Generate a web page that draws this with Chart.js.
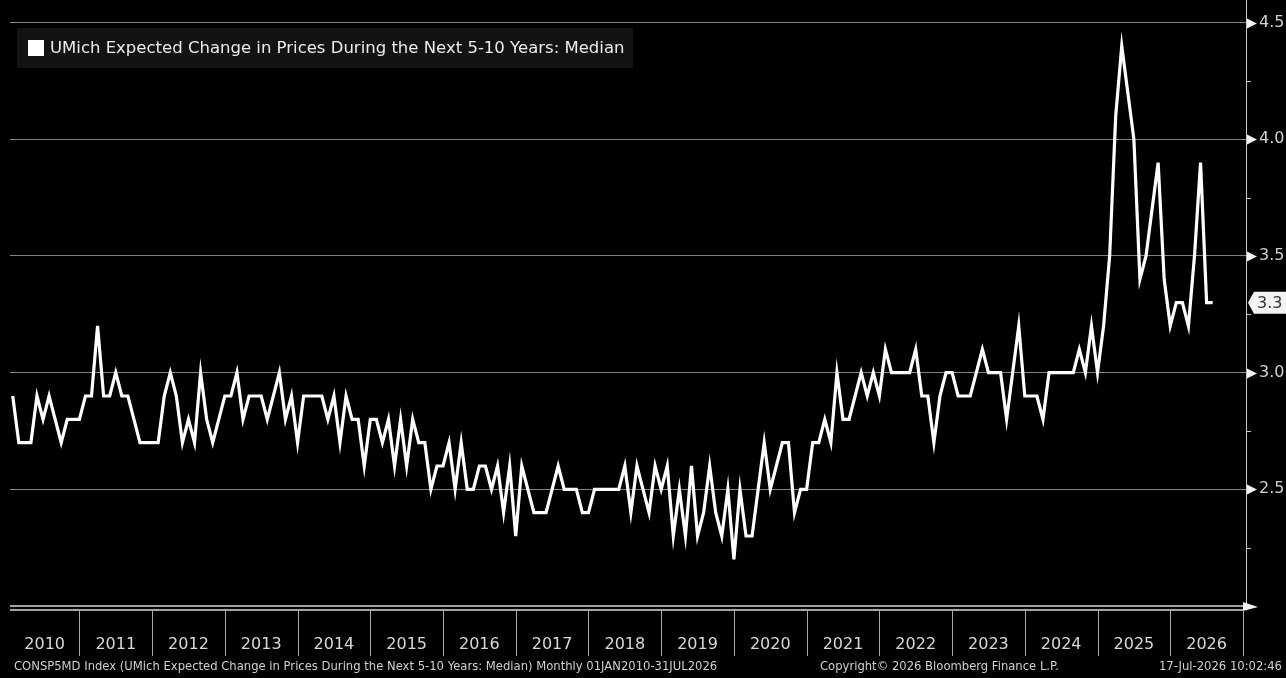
<!DOCTYPE html>
<html>
<head>
<meta charset="utf-8">
<title>UMich Expected Change in Prices During the Next 5-10 Years: Median</title>
<script src="https://cdn.jsdelivr.net/npm/chart.js@4.4.1/dist/chart.umd.min.js"></script>
<style>
  html, body { margin: 0; padding: 0; background: #000; }
  #wrap { position: relative; width: 1286px; height: 678px; }
</style>
</head>
<body>
<div id="wrap"><canvas id="chart" width="1286" height="678"></canvas></div>
<script>
/* ── DATA ─────────────────────────────────────────────────
   CONSP5MD Index, monthly median, Jan 2010 – Jul 2026.
   Values, one array per year.
──────────────────────────────────────────────────────────── */
const yr2010 = [2.9, 2.7, 2.7, 2.7, 2.9, 2.8, 2.9, 2.8, 2.7, 2.8, 2.8, 2.8];
const yr2011 = [2.9, 2.9, 3.2, 2.9, 2.9, 3.0, 2.9, 2.9, 2.8, 2.7, 2.7, 2.7];
const yr2012 = [2.7, 2.9, 3.0, 2.9, 2.7, 2.8, 2.7, 3.0, 2.8, 2.7, 2.8, 2.9];
const yr2013 = [2.9, 3.0, 2.8, 2.9, 2.9, 2.9, 2.8, 2.9, 3.0, 2.8, 2.9, 2.7];
const yr2014 = [2.9, 2.9, 2.9, 2.9, 2.8, 2.9, 2.7, 2.9, 2.8, 2.8, 2.6, 2.8];
const yr2015 = [2.8, 2.7, 2.8, 2.6, 2.8, 2.6, 2.8, 2.7, 2.7, 2.5, 2.6, 2.6];
const yr2016 = [2.7, 2.5, 2.7, 2.5, 2.5, 2.6, 2.6, 2.5, 2.6, 2.4, 2.6, 2.3];
const yr2017 = [2.6, 2.5, 2.4, 2.4, 2.4, 2.5, 2.6, 2.5, 2.5, 2.5, 2.4, 2.4];
const yr2018 = [2.5, 2.5, 2.5, 2.5, 2.5, 2.6, 2.4, 2.6, 2.5, 2.4, 2.6, 2.5];
const yr2019 = [2.6, 2.3, 2.5, 2.3, 2.6, 2.3, 2.4, 2.6, 2.4, 2.3, 2.5, 2.2];
const yr2020 = [2.5, 2.3, 2.3, 2.5, 2.7, 2.5, 2.6, 2.7, 2.7, 2.4, 2.5, 2.5];
const yr2021 = [2.7, 2.7, 2.8, 2.7, 3.0, 2.8, 2.8, 2.9, 3.0, 2.9, 3.0, 2.9];
const yr2022 = [3.1, 3.0, 3.0, 3.0, 3.0, 3.1, 2.9, 2.9, 2.7, 2.9, 3.0, 3.0];
const yr2023 = [2.9, 2.9, 2.9, 3.0, 3.1, 3.0, 3.0, 3.0, 2.8, 3.0, 3.2, 2.9];
const yr2024 = [2.9, 2.9, 2.8, 3.0, 3.0, 3.0, 3.0, 3.0, 3.1, 3.0, 3.2, 3.0];
const yr2025 = [3.2, 3.5, 4.1, 4.4, 4.2, 4.0, 3.4, 3.5, 3.7, 3.9, 3.4, 3.2];
const yr2026 = [3.3, 3.3, 3.2, 3.5, 3.9, 3.3, 3.3];

const yearLabels = ['2010', '2011', '2012', '2013', '2014', '2015', '2016', '2017', '2018',
                    '2019', '2020', '2021', '2022', '2023', '2024', '2025', '2026'];

// right axis: 2.0 – 4.5, labelled every 0.5, minor marks every 0.25
const yMin = 2.0;
const yMax = 4.5;
const yStep = 0.25;
const yLabelled = [2.5, 3.0, 3.5, 4.0, 4.5];

const seriesName = 'UMich Expected Change in Prices During the Next 5-10 Years: Median';
const footLeft   = 'CONSP5MD Index (UMich Expected Change in Prices During the Next 5-10 Years: Median) Monthly 01JAN2010-31JUL2026';
const footMid    = 'Copyright\u00A9 2026 Bloomberg Finance L.P.';
const footRight  = '17-Jul-2026 10:02:46';

const medianValues = [].concat(yr2010, yr2011, yr2012, yr2013, yr2014, yr2015, yr2016, yr2017,
                               yr2018, yr2019, yr2020, yr2021, yr2022, yr2023, yr2024, yr2025, yr2026);

// x = months since 1 Jan 2010, each reading plotted at month end
const points = medianValues.map((v, i) => ({ x: i + 1, y: v }));

const FONT = 'DejaVu Sans';
const isLabelled = v => yLabelled.some(l => Math.abs(l - v) < 1e-6);

/* ── BLOOMBERG FRAME ──────────────────────────────────────
   Legend box, year strip, axis marks, last-value tag, footer.
──────────────────────────────────────────────────────────── */
const bbgFrame = {
    id: 'bbgFrame',
    afterDraw(chart) {
        const { ctx, chartArea: a, scales: { x, y } } = chart;
        ctx.save();

        // right axis line runs to the top edge
        ctx.strokeStyle = '#c8c8c8';
        ctx.lineWidth = 1;
        ctx.beginPath();
        ctx.moveTo(a.right + 0.5, 0);
        ctx.lineTo(a.right + 0.5, a.bottom);
        ctx.stroke();

        // tick marks: triangles on labelled values, dashes elsewhere
        y.ticks.forEach(t => {
            const py = Math.round(y.getPixelForValue(t.value)) + 0.5;
            if (isLabelled(t.value)) {
                ctx.fillStyle = '#f2f2f2';
                ctx.beginPath();
                ctx.moveTo(a.right + 1, py - 5);
                ctx.lineTo(a.right + 11, py);
                ctx.lineTo(a.right + 1, py + 5);
                ctx.closePath();
                ctx.fill();
            } else {
                ctx.strokeStyle = '#c8c8c8';
                ctx.beginPath();
                ctx.moveTo(a.right, py);
                ctx.lineTo(a.right + 5, py);
                ctx.stroke();
            }
        });

        // double baseline with arrow
        const endX = x.getPixelForValue(yearLabels.length * 12);
        ctx.strokeStyle = '#d8d8d8';
        ctx.lineWidth = 1.5;
        [a.bottom, a.bottom + 4].forEach(py => {
            ctx.beginPath();
            ctx.moveTo(a.left, py);
            ctx.lineTo(endX, py);
            ctx.stroke();
        });
        ctx.fillStyle = '#f2f2f2';
        ctx.beginPath();
        ctx.moveTo(endX, a.bottom - 4);
        ctx.lineTo(endX + 15, a.bottom + 1);
        ctx.lineTo(endX, a.bottom + 5);
        ctx.closePath();
        ctx.fill();

        // year strip
        ctx.font = `16px "${FONT}"`;
        ctx.textAlign = 'center';
        ctx.textBaseline = 'middle';
        yearLabels.forEach((lab, k) => {
            const left  = Math.max(a.left, x.getPixelForValue(k * 12));
            const right = x.getPixelForValue((k + 1) * 12);
            ctx.strokeStyle = '#a8a8a8';
            ctx.lineWidth = 1;
            ctx.beginPath();
            ctx.moveTo(Math.round(right) + 0.5, a.bottom + 4);
            ctx.lineTo(Math.round(right) + 0.5, a.bottom + 50);
            ctx.stroke();
            ctx.fillStyle = '#d8d8d8';
            ctx.fillText(lab, (left + right) / 2, 645);
        });

        // legend box
        ctx.fillStyle = '#131313';
        ctx.fillRect(17, 28, 616, 40);
        ctx.fillStyle = '#ffffff';
        ctx.fillRect(28, 40, 16, 16);
        ctx.fillStyle = '#ececec';
        ctx.font = `16.5px "${FONT}"`;
        ctx.textAlign = 'left';
        ctx.fillText(seriesName, 50, 49);

        // last value tag
        const last = medianValues[medianValues.length - 1];
        const ty = y.getPixelForValue(last);
        ctx.fillStyle = '#f4f4f4';
        ctx.beginPath();
        ctx.moveTo(a.right + 2, ty);
        ctx.lineTo(a.right + 8, ty - 11);
        ctx.lineTo(1286, ty - 11);
        ctx.lineTo(1286, ty + 11);
        ctx.lineTo(a.right + 8, ty + 11);
        ctx.closePath();
        ctx.fill();
        ctx.fillStyle = '#333333';
        ctx.font = `16px "${FONT}"`;
        ctx.fillText(last.toFixed(1), a.right + 11, ty + 1);

        // footer
        ctx.fillStyle = '#d0d0d0';
        ctx.font = `11.6px "${FONT}"`;
        ctx.fillText(footLeft, 14, 667);
        ctx.fillText(footMid, 820, 667);
        ctx.textAlign = 'right';
        ctx.fillText(footRight, 1282, 667);

        ctx.restore();
    }
};

/* ── CHART ─────────────────────────────────────────────── */
new Chart(document.getElementById('chart'), {
    type: 'line',
    data: {
        datasets: [{
            label: seriesName,
            data: points,
            borderColor: '#ffffff',
            borderWidth: 3.2,
            pointRadius: 0,
            tension: 0,
            fill: false,
        }]
    },
    options: {
        responsive: false,
        animation: false,
        layout: { padding: { left: 10, top: 20, right: 0, bottom: 72 } },
        plugins: {
            legend: { display: false },
            tooltip: { enabled: false },
        },
        scales: {
            x: {
                type: 'linear',
                min: 0.55,
                max: 204.5,
                display: false,
            },
            y: {
                position: 'right',
                min: yMin,
                max: yMax,
                afterFit: s => { s.width = 40; },
                border: { display: false },
                grid: {
                    color: c => isLabelled(c.tick.value) ? '#858585' : 'transparent',
                    lineWidth: 1,
                    drawTicks: false,
                },
                ticks: {
                    stepSize: yStep,
                    padding: 13,
                    autoSkip: false,
                    color: '#d0d0d0',
                    font: { family: FONT, size: 16 },
                    callback: v => isLabelled(v) ? v.toFixed(1) : '',
                }
            }
        }
    },
    plugins: [bbgFrame]
});
</script>
</body>
</html>
